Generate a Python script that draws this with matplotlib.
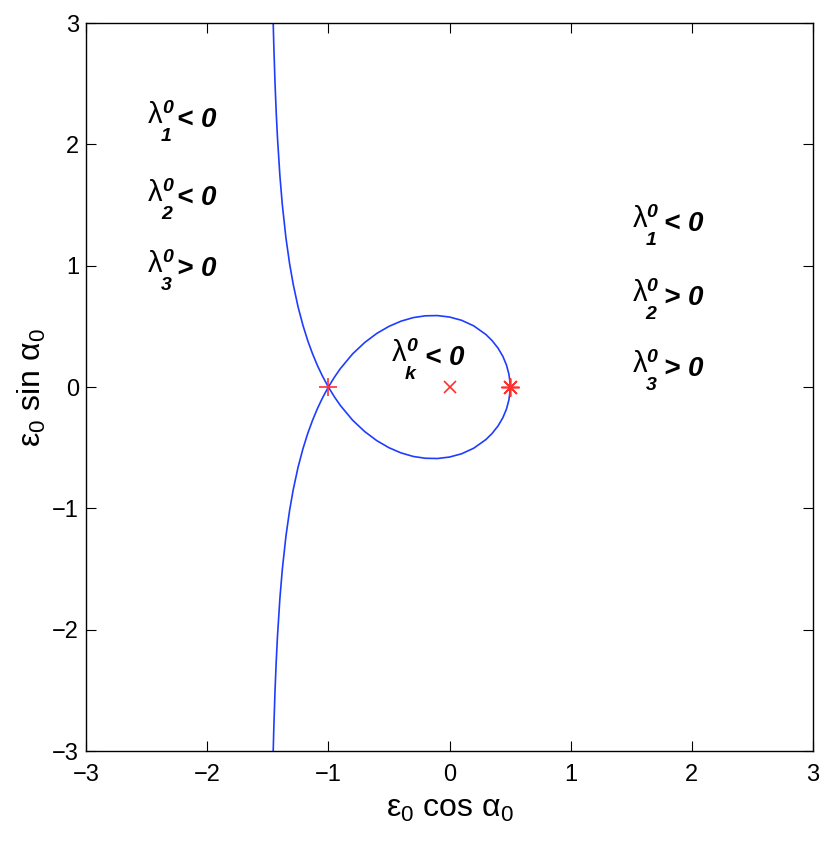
import numpy as np
import matplotlib
matplotlib.use("Agg")
import matplotlib.pyplot as plt

plt.rcParams['font.family'] = ['Liberation Sans', 'DejaVu Sans']
plt.rcParams['mathtext.fontset'] = 'custom'
plt.rcParams['mathtext.rm'] = 'Liberation Sans'
plt.rcParams['mathtext.it'] = 'Liberation Sans:italic'
plt.rcParams['mathtext.bf'] = 'Liberation Sans:bold'

# outer branch (upper half: y=3 down to the node)
branch_up_x = [-1.455, -1.45, -1.44, -1.43, -1.42, -1.40, -1.38, -1.35, -1.32,
               -1.29, -1.25, -1.21, -1.17, -1.13, -1.09, -1.05, -1.0]
branch_up_y = [3.0, 2.81, 2.502, 2.258, 2.058, 1.744, 1.504, 1.229, 1.018,
               0.847, 0.661, 0.51, 0.382, 0.273, 0.177, 0.093, 0.0]
branch_lo_x = [-1.0, -1.05, -1.09, -1.13, -1.17, -1.21, -1.25, -1.29, -1.32,
               -1.35, -1.38, -1.40, -1.42, -1.43, -1.44, -1.45, -1.455]
branch_lo_y = [0.0, -0.093, -0.177, -0.273, -0.382, -0.51, -0.661, -0.847, -1.018,
               -1.229, -1.504, -1.744, -2.058, -2.258, -2.502, -2.81, -3.0]

# loop: upper half from the node to the right end, lower half back
loop_up_x = [-1.0, -0.95, -0.9, -0.8, -0.7, -0.6, -0.5, -0.4, -0.3, -0.2, -0.1,
             0.0, 0.1, 0.2, 0.3, 0.35, 0.4, 0.44, 0.47, 0.49, 0.498, 0.5]
loop_up_y = [0.0, 0.081, 0.153, 0.273, 0.367, 0.442, 0.5, 0.543, 0.572, 0.587, 0.589,
             0.577, 0.55, 0.504, 0.433, 0.384, 0.321, 0.253, 0.181, 0.106, 0.047, 0.0]
loop_lo_x = [0.5, 0.498, 0.49, 0.47, 0.44, 0.4, 0.35, 0.3, 0.2, 0.1, 0.0,
             -0.1, -0.2, -0.3, -0.4, -0.5, -0.6, -0.7, -0.8, -0.9, -0.95, -1.0]
loop_lo_y = [0.0, -0.047, -0.106, -0.181, -0.253, -0.321, -0.384, -0.433, -0.504, -0.55, -0.577,
             -0.589, -0.587, -0.572, -0.543, -0.5, -0.442, -0.367, -0.273, -0.153, -0.081, 0.0]

# special points
node_pt = (-1.0, 0.0)
origin_pt = (0.0, 0.0)
end_pt = (0.5, 0.0)

# region labels: subscript, relation, where lambda starts (x, baseline y)
left_subs = ['1', '2', '3']
left_rel = ['< 0', '< 0', '> 0']
left_x = -2.488
left_y = [2.176, 1.537, 0.944]
right_subs = ['1', '2', '3']
right_rel = ['< 0', '> 0', '> 0']
right_x = 1.51
right_y = [1.319, 0.713, 0.124]
mid_sub = 'k'
mid_rel = '< 0'
mid_x = -0.474
mid_y = 0.215

ticks = [-3, -2, -1, 0, 1, 2, 3]

fig = plt.figure(figsize=(8.3, 8.47), dpi=100)
ax = fig.add_axes([0.1036, 0.1133, 0.876, 0.8595])

blue = '#1f3dff'
ax.plot(branch_up_x, branch_up_y, color=blue, lw=1.2)
ax.plot(branch_lo_x, branch_lo_y, color=blue, lw=1.2)
ax.plot(loop_up_x, loop_up_y, color=blue, lw=1.2)
ax.plot(loop_lo_x, loop_lo_y, color=blue, lw=1.2)

red = '#ff3030'
ax.plot(*node_pt, marker='+', color=red, ms=13, mew=1.2)
ax.plot(*origin_pt, marker='x', color=red, ms=9, mew=1.2)
ax.plot(*end_pt, marker=(8, 2, 0), color=red, ms=13, mew=1.2)


def lam_label(x, y, sub, rel, rel_dx=29):
    # offsets are given in pixels, converted to points (dpi 100)
    k = 0.72
    common = dict(xycoords='data', textcoords='offset points', ha='left', va='baseline')
    ax.annotate('\u03bb', (x, y), xytext=(0, 0), fontsize=21, **common)
    ax.annotate('0', (x, y), xytext=(14 * k, 10 * k), fontsize=14,
                fontweight='bold', fontstyle='italic', **common)
    ax.annotate(sub, (x, y), xytext=(13 * k, -18 * k), fontsize=14,
                fontweight='bold', fontstyle='italic', **common)
    ax.annotate(rel, (x, y), xytext=(rel_dx * k, -4 * k), fontsize=20,
                fontweight='bold', fontstyle='italic', **common)


for s, r, yy in zip(left_subs, left_rel, left_y):
    lam_label(left_x, yy, s, r)
for s, r, yy in zip(right_subs, right_rel, right_y):
    lam_label(right_x, yy, s, r, rel_dx=31)
lam_label(mid_x, mid_y, mid_sub, mid_rel, rel_dx=33)

ax.set_xlim(-3, 3)
ax.set_ylim(-3, 3)
ax.set_xticks(ticks)
ax.set_yticks(ticks)
ax.tick_params(direction='in', top=True, right=True, labelsize=17, length=7, width=0.8)
ax.tick_params(axis='x', pad=9)
ax.tick_params(axis='y', pad=5)
for s in ax.spines.values():
    s.set_linewidth(1.0)

ax.set_xlabel(r'$\mathrm{\varepsilon}_0$ cos $\mathrm{\alpha}_0$', fontsize=23, labelpad=6)
ax.set_ylabel(r'$\mathrm{\varepsilon}_0$ sin $\mathrm{\alpha}_0$', fontsize=23, labelpad=3)

fig.savefig('out.png', dpi=100)
